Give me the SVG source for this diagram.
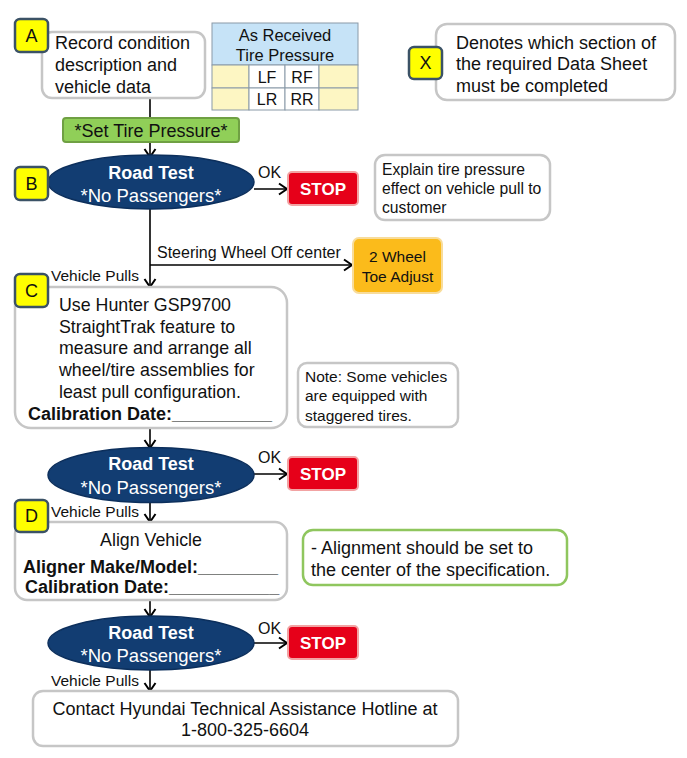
<svg xmlns="http://www.w3.org/2000/svg" width="687" height="758" viewBox="0 0 687 758">
<defs>
<marker id="arr" markerUnits="userSpaceOnUse" markerWidth="14" markerHeight="14" viewBox="0 0 14 14" refX="12" refY="7" orient="auto">
<path d="M4,1.5 L12,7 L4,12.5" fill="none" stroke="#000" stroke-width="2"/>
</marker>
</defs>
<style>
text{font-family:"Liberation Sans",Arial,sans-serif;fill:#111}
.box{fill:#fff;stroke:#c6c6c6;stroke-width:2.5}
.lbl{fill:#ffff00;stroke:#3b5266;stroke-width:2.5}
.lt{font-size:18px;text-anchor:middle}
.ell{fill:#123d72;stroke:#0c2f5c;stroke-width:1.5}
.rt{font-size:18px;fill:#fff;text-anchor:middle}
.stop{fill:#e60019;stroke:#f2a3a3;stroke-width:2}
.st{font-size:17px;font-weight:bold;fill:#fff;text-anchor:middle}
.con{fill:none;stroke:#000;stroke-width:1.6}
.cl{font-size:15.5px}
.b{font-weight:bold}
.cell{stroke:#8a9aa8;stroke-width:1}
</style>

<g id="connectors">
<line class="con" x1="150" y1="98" x2="150" y2="118"/>
<line class="con" x1="150" y1="142" x2="150" y2="157" marker-end="url(#arr)"/>
<line class="con" x1="150" y1="209" x2="150" y2="287" marker-end="url(#arr)"/>
<line class="con" x1="150" y1="265" x2="352" y2="265" marker-end="url(#arr)"/>
<line class="con" x1="254" y1="189" x2="287" y2="189" marker-end="url(#arr)"/>
<line class="con" x1="150" y1="428" x2="150" y2="448" marker-end="url(#arr)"/>
<line class="con" x1="254" y1="474" x2="287" y2="474" marker-end="url(#arr)"/>
<line class="con" x1="150" y1="502" x2="150" y2="522" marker-end="url(#arr)"/>
<line class="con" x1="150" y1="600" x2="150" y2="617" marker-end="url(#arr)"/>
<line class="con" x1="254" y1="643" x2="287" y2="643" marker-end="url(#arr)"/>
<line class="con" x1="150" y1="670" x2="150" y2="691" marker-end="url(#arr)"/>
<text x="258" y="178" style="font-size:16px">OK</text>
<text x="258" y="463" style="font-size:16px">OK</text>
<text x="258" y="634" style="font-size:16px">OK</text>
<text x="157" y="258" style="font-size:16px">Steering Wheel Off center</text>
<text class="cl" x="51" y="281">Vehicle Pulls</text>
<text class="cl" x="51" y="517">Vehicle Pulls</text>
<text class="cl" x="51" y="686">Vehicle Pulls</text>
</g>

<g id="nodeA">
<rect class="box" x="42" y="32" width="163" height="66" rx="10"/>
<text x="55" y="49" style="font-size:18px">Record condition</text>
<text x="55" y="71" style="font-size:18px">description and</text>
<text x="55" y="93" style="font-size:18px">vehicle data</text>
</g>

<g id="tireTable">
<rect x="212" y="23" width="146" height="42" fill="#c6e3f7" class="cell"/>
<rect x="212" y="65" width="37" height="23" fill="#fdf6c3" class="cell"/>
<rect x="249" y="65" width="36" height="23" fill="#fff" class="cell"/>
<rect x="285" y="65" width="34" height="23" fill="#fff" class="cell"/>
<rect x="319" y="65" width="39" height="23" fill="#fdf6c3" class="cell"/>
<rect x="212" y="88" width="37" height="22" fill="#fdf6c3" class="cell"/>
<rect x="249" y="88" width="36" height="22" fill="#fff" class="cell"/>
<rect x="285" y="88" width="34" height="22" fill="#fff" class="cell"/>
<rect x="319" y="88" width="39" height="22" fill="#fdf6c3" class="cell"/>
<text x="285" y="41" style="font-size:16.5px;text-anchor:middle">As Received</text>
<text x="285" y="61" style="font-size:16.5px;text-anchor:middle">Tire Pressure</text>
<text x="267" y="83" style="font-size:16px;text-anchor:middle">LF</text>
<text x="302" y="83" style="font-size:16px;text-anchor:middle">RF</text>
<text x="267" y="105" style="font-size:16px;text-anchor:middle">LR</text>
<text x="302" y="105" style="font-size:16px;text-anchor:middle">RR</text>
</g>

<g id="legendX">
<rect class="box" x="436" y="24" width="239" height="76" rx="11"/>
<text x="456" y="49" style="font-size:18px">Denotes which section of</text>
<text x="456" y="70" style="font-size:18px">the required Data Sheet</text>
<text x="456" y="92" style="font-size:18px">must be completed</text>
<rect class="lbl" x="409" y="47" width="33" height="32" rx="5"/>
<text class="lt" x="425.5" y="69">X</text>
</g>

<g id="setPressure">
<rect x="63" y="118" width="176" height="24" rx="3" fill="#90cf58" stroke="#6fa043" stroke-width="2"/>
<text x="151" y="136.5" style="font-size:18px;text-anchor:middle">*Set Tire Pressure*</text>
</g>

<g id="roadTest1">
<ellipse class="ell" cx="151" cy="182" rx="103" ry="27"/>
<text class="rt b" x="151" y="179">Road Test</text>
<text class="rt" x="151" y="201.5" style="font-size:18.5px">*No Passengers*</text>
</g>

<g id="stop1">
<rect class="stop" x="288" y="172" width="70" height="33" rx="4"/>
<text class="st" x="323" y="195">STOP</text>
</g>

<g id="explain">
<rect class="box" x="375" y="155" width="175" height="65" rx="10"/>
<text x="382" y="175" style="font-size:15.7px">Explain tire pressure</text>
<text x="382" y="194" style="font-size:15.7px">effect on vehicle pull to</text>
<text x="382" y="213" style="font-size:15.7px">customer</text>
</g>

<g id="toeAdjust">
<rect x="353" y="238" width="89" height="55" rx="6" fill="#fbbb1b" stroke="#f8dc9a" stroke-width="2"/>
<text x="397.5" y="262" style="font-size:15.5px;text-anchor:middle">2 Wheel</text>
<text x="397.5" y="282" style="font-size:15.5px;text-anchor:middle">Toe Adjust</text>
</g>

<g id="nodeC">
<rect class="box" x="15" y="287" width="272" height="141" rx="16"/>
<text x="59" y="311" style="font-size:17.8px">Use Hunter GSP9700</text>
<text x="59" y="333" style="font-size:17.8px">StraightTrak feature to</text>
<text x="59" y="354" style="font-size:17.8px">measure and arrange all</text>
<text x="59" y="376" style="font-size:17.8px">wheel/tire assemblies for</text>
<text x="59" y="398" style="font-size:17.8px">least pull configuration.</text>
<text class="b" x="28" y="420" style="font-size:18px">Calibration Date:__________</text>
</g>

<g id="note">
<rect class="box" x="298" y="363" width="160" height="64" rx="9"/>
<text x="305" y="382" style="font-size:15.5px">Note: Some vehicles</text>
<text x="305" y="401" style="font-size:15.5px">are equipped with</text>
<text x="305" y="421" style="font-size:15.5px">staggered tires.</text>
</g>

<g id="roadTest2">
<ellipse class="ell" cx="151" cy="475" rx="103" ry="27.5"/>
<text class="rt b" x="151" y="470">Road Test</text>
<text class="rt" x="151" y="493.5" style="font-size:18.5px">*No Passengers*</text>
</g>

<g id="stop2">
<rect class="stop" x="288" y="457" width="70" height="33" rx="4"/>
<text class="st" x="323" y="480">STOP</text>
</g>

<g id="nodeD">
<rect class="box" x="15" y="522" width="272" height="78" rx="12"/>
<text x="151" y="546" style="font-size:17.8px;text-anchor:middle">Align Vehicle</text>
<text class="b" x="23" y="573" style="font-size:18px">Aligner Make/Model:________</text>
<text class="b" x="25" y="593" style="font-size:18px">Calibration Date:___________</text>
</g>

<g id="alignNote">
<rect x="303" y="530" width="264" height="55" rx="10" fill="#fff" stroke="#8fc65e" stroke-width="2.5"/>
<text x="311" y="554" style="font-size:18px">- Alignment should be set to</text>
<text x="311" y="576" style="font-size:18px">the center of the specification.</text>
</g>

<g id="roadTest3">
<ellipse class="ell" cx="151" cy="643" rx="103" ry="27"/>
<text class="rt b" x="151" y="639">Road Test</text>
<text class="rt" x="151" y="661.5" style="font-size:18.5px">*No Passengers*</text>
</g>

<g id="stop3">
<rect class="stop" x="288" y="626" width="70" height="33" rx="4"/>
<text class="st" x="323" y="649">STOP</text>
</g>

<g id="hotline">
<rect class="box" x="33" y="691" width="425" height="55" rx="10"/>
<text x="245" y="715" style="font-size:18px;text-anchor:middle">Contact Hyundai Technical Assistance Hotline at</text>
<text x="245" y="736" style="font-size:18px;text-anchor:middle">1-800-325-6604</text>
</g>

<g id="labelA">
<rect class="lbl" x="15" y="19" width="33" height="33" rx="5"/>
<text class="lt" x="31.5" y="42">A</text>
</g>
<g id="labelB">
<rect class="lbl" x="15" y="167" width="33" height="33" rx="5"/>
<text class="lt" x="31.5" y="190">B</text>
</g>
<g id="labelC">
<rect class="lbl" x="15" y="274" width="33" height="33" rx="5"/>
<text class="lt" x="31.5" y="297">C</text>
</g>
<g id="labelD">
<rect class="lbl" x="15" y="500" width="33" height="32" rx="5"/>
<text class="lt" x="31.5" y="522">D</text>
</g>
</svg>
